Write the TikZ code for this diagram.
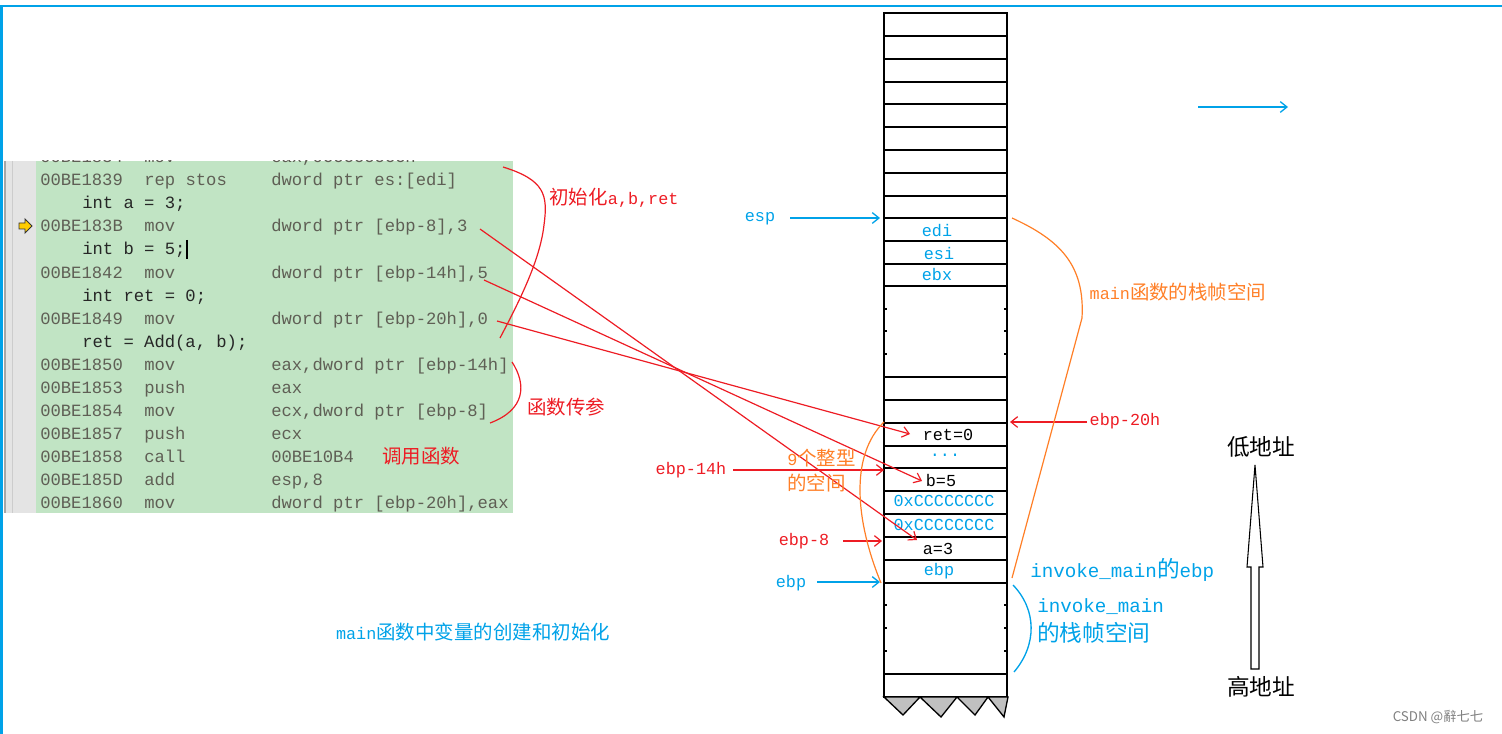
\documentclass[tikz,border=0pt]{standalone}
\usepackage{fontspec}
\setmonofont{Liberation Mono}
\newfontfamily\cjkf{Noto Sans CJK SC}
\usetikzlibrary{arrows.meta}
\definecolor{cblue}{RGB}{0,162,232}
\definecolor{cred}{RGB}{237,28,36}
\definecolor{corange}{RGB}{255,127,39}
\definecolor{cgreen}{RGB}{193,228,196}
\definecolor{cgutter}{RGB}{228,228,228}
\definecolor{casm}{RGB}{95,95,85}
\definecolor{ctri}{RGB}{192,192,192}
\newcommand\zh[1]{{\fontsize{14.6}{17}\selectfont\cjkf #1}}
\newcommand\zhb[1]{{\fontsize{17}{20}\selectfont\cjkf #1}}
\tikzset{
  txt/.style={inner sep=0pt, font=\fontsize{12.6}{15}\selectfont\ttfamily},
  bigtxt/.style={inner sep=0pt, font=\fontsize{14.4}{17}\selectfont\ttfamily},
  asm/.style={inner sep=0pt, anchor=base west, text=casm, font=\fontsize{12.9}{15}\selectfont\ttfamily},
  src/.style={asm, text=black!85},
  gridline/.style={line width=1.1pt},
  tipped/.style={-{Straight Barb[length=5pt,width=8pt]}},
  bluearrow/.style={tipped, draw=cblue, line width=1pt},
  redarrow/.style={tipped, draw=cred, line width=0.9pt},
  redcurve/.style={draw=cred, line width=0.9pt},
  orangecurve/.style={draw=corange, line width=0.9pt},
  bluecurve/.style={draw=cblue, line width=1pt},
}
\newcommand\asmrow[5]{%
  \node[asm] (#1a) at (40,#2) {#3};
  \node[asm] (#1m) at (144,#2) {#4};
  \node[asm] (#1o) at (271,#2) {#5};}
\newcommand\srcrow[3]{\node[src] (#1) at (82,#2) {#3};}
\begin{document}
\begin{tikzpicture}[x=0.75pt,y=-0.75pt]
\useasboundingbox (0,0) rectangle (1502,734);
% frame
\draw[cblue, line width=1.5pt] (0,6) -- (1502,6);
\draw[cblue, line width=1.5pt] (1.5,6) -- (1.5,734);
% code block
\fill[cgutter] (4,161) rectangle (36,513);
\fill[cgreen] (36,161) rectangle (513,513);
\draw[gray!70, line width=0.8pt] (5,161) -- (5,513);
\draw[gray!40, line width=0.6pt] (12,161) -- (12,513);
\begin{scope}
\clip (36,161) rectangle (513,513);
\asmrow{r0}{163}{00BE1834}{mov}{eax,0CCCCCCCCh}
\asmrow{r1}{186}{00BE1839}{rep stos}{dword ptr es:[edi]}
\srcrow{s2}{209}{int a = 3;}
\asmrow{r3}{232}{00BE183B}{mov}{dword ptr [ebp-8],3}
\srcrow{s4}{255}{int b = 5;}
\asmrow{r5}{278}{00BE1842}{mov}{dword ptr [ebp-14h],5}
\srcrow{s6}{301}{int ret = 0;}
\asmrow{r7}{324}{00BE1849}{mov}{dword ptr [ebp-20h],0}
\srcrow{s8}{347}{ret = Add(a, b);}
\asmrow{r9}{370}{00BE1850}{mov}{eax,dword ptr [ebp-14h]}
\asmrow{r10}{393}{00BE1853}{push}{eax}
\asmrow{r11}{416}{00BE1854}{mov}{ecx,dword ptr [ebp-8]}
\asmrow{r12}{439}{00BE1857}{push}{ecx}
\asmrow{r13}{462}{00BE1858}{call}{00BE10B4}
\asmrow{r14}{485}{00BE185D}{add}{esp,8}
\asmrow{r15}{508}{00BE1860}{mov}{dword ptr [ebp-20h],eax}
\end{scope}
% yellow arrow icon and cursor
\draw[fill={rgb,255:red,255;green,204;blue,0}, draw=black!80, line width=0.7pt]
  (19,223) -- (25,223) -- (25,219) -- (32,226) -- (25,233) -- (25,229) -- (19,229) -- cycle;
\draw[black, line width=1.1pt] (187,240) -- (187,259);
% red annotations on code
\node[txt, text=cred, font=\fontsize{14.6}{17}\selectfont\cjkf] (call) at (421,456) {调用函数};
\node[txt, text=cred] (initlbl) at (614,198) {\zh{初始化}a,b,ret};
\node[txt, text=cred] (paramlbl) at (566,407) {\zh{函数传参}};
\coordinate (ia) at (503,167);
\coordinate (ib) at (500,338);
\draw[redcurve] (ia) .. controls (545,180) and (548,195) .. (544,225)
  .. controls (540,260) and (520,300) .. (ib);
\coordinate (pa) at (512,362);
\coordinate (pb) at (490,423);
\draw[redcurve] (pa) .. controls (527,385) and (525,410) .. (pb);
% stack
\draw[gridline] (884,13) rectangle (1007,697);
\foreach \y in {36,59,82,104,127,150,173,196,218,241,264,286,377,400,423,446,468,491,514,537,560,583,674}
  \draw[gridline] (884,\y) -- (1007,\y);
\foreach \y in {309,331,354,605,628,651} {
  \draw[gridline] (884,\y) -- (887,\y);
  \draw[gridline] (1004,\y) -- (1007,\y);}
\draw[fill=ctri, line width=1pt] (884,697) -- (903,715) -- (920,697) -- (941,717) -- (957,697)
  -- (975,715) -- (988,697) -- (1004,717) -- (1008,697) -- cycle;
% cell labels
\node[txt, text=cblue] (edi) at (937,231) {edi};
\node[txt, text=cblue] (esi) at (939,253) {esi};
\node[txt, text=cblue] (ebx) at (937,274) {ebx};
\node[txt] (ret) at (948,435) {ret=0};
\node[txt, text=cblue] (dots) at (945,455) {...};
\node[txt] (bv) at (941,480) {b=5};
\node[txt, text=cblue] (cc1) at (944,501) {0xCCCCCCCC};
\node[txt, text=cblue] (cc2) at (944,525) {0xCCCCCCCC};
\node[txt] (av) at (938,549) {a=3};
\node[txt, text=cblue] (ebpcell) at (939,571) {ebp};
% pointer labels
\node[txt, text=cblue] (esp) at (760,219) {esp};
\coordinate (espt) at (880,218);
\draw[bluearrow] (790,218) -- (espt);
\node[txt, text=cblue] (ebp) at (791,583) {ebp};
\coordinate (ebpt) at (880,582);
\draw[bluearrow] (817,582) -- (ebpt);
\node[txt, text=cred] (e8) at (804,541) {ebp-8};
\coordinate (e8t) at (882,541);
\draw[redarrow] (843,541) -- (e8t);
\node[txt, text=cred] (e14) at (691,470) {ebp-14h};
\coordinate (e14t) at (884,470);
\draw[redarrow] (733,470) -- (e14t);
\node[txt, text=cred] (e20) at (1125,421) {ebp-20h};
\coordinate (e20t) at (1010,422);
\draw[redarrow] (1087,422) -- (e20t);
% code to stack arrows
\coordinate (p3) at (480,229);
\coordinate (p5) at (484,280);
\coordinate (p7) at (497,321);
\coordinate (ta) at (917,540);
\coordinate (tb) at (922,481);
\coordinate (tr) at (910,434);
\draw[redarrow] (p3) -- (ta);
\draw[redarrow] (p5) -- (tb);
\draw[redarrow] (p7) -- (tr);
% orange brackets
\node[txt, text=corange, anchor=west] (nine) at (787,458) {9\zh{个整型}};
\node[txt, text=corange, anchor=west] (space) at (787,483) {\zh{的空间}};
\coordinate (oa) at (884,422);
\coordinate (ob) at (881,583);
\draw[orangecurve] (oa) .. controls (850,455) and (855,520) .. (ob);
\node[txt, text=corange] (mainlbl) at (1178,292) {main\zh{函数的栈帧空间}};
\coordinate (oc) at (1012,218);
\coordinate (od) at (1012,578);
\draw[orangecurve] (oc) .. controls (1060,240) and (1085,265) .. (1082,318) -- (od);
% blue bracket and labels
\node[bigtxt, text=cblue, anchor=west] (invebp) at (1030,570) {invoke\_main\zhb{的}ebp};
\node[bigtxt, text=cblue, anchor=west] (invmain) at (1037,607) {invoke\_main};
\node[bigtxt, text=cblue, anchor=west] (invframe) at (1037,633) {\zhb{的栈帧空间}};
\coordinate (ba) at (1013,585);
\coordinate (bb) at (1014,672);
\draw[bluecurve] (ba) .. controls (1037,610) and (1037,645) .. (bb);
% address direction
\node[txt] (low) at (1261,447) {\zhb{低地址}};
\node[txt] (high) at (1261,687) {\zhb{高地址}};
\draw[fill=white, line width=0.8pt] (1251,669) -- (1251,567) -- (1247,567) -- (1255,465)
  -- (1263,567) -- (1259,567) -- (1259,669) -- cycle;
\coordinate (ra) at (1198,107);
\coordinate (rb) at (1288,107);
\draw[bluearrow] (ra) -- (rb);
% caption
\node[txt, text=cblue] (caption) at (473,632) {main\zh{函数中变量的创建和初始化}};
\node[inner sep=0pt, text=gray, font=\fontsize{10}{12}\selectfont\cjkf] (wm) at (1438,717) {CSDN @辭七七};
\end{tikzpicture}
\end{document}
